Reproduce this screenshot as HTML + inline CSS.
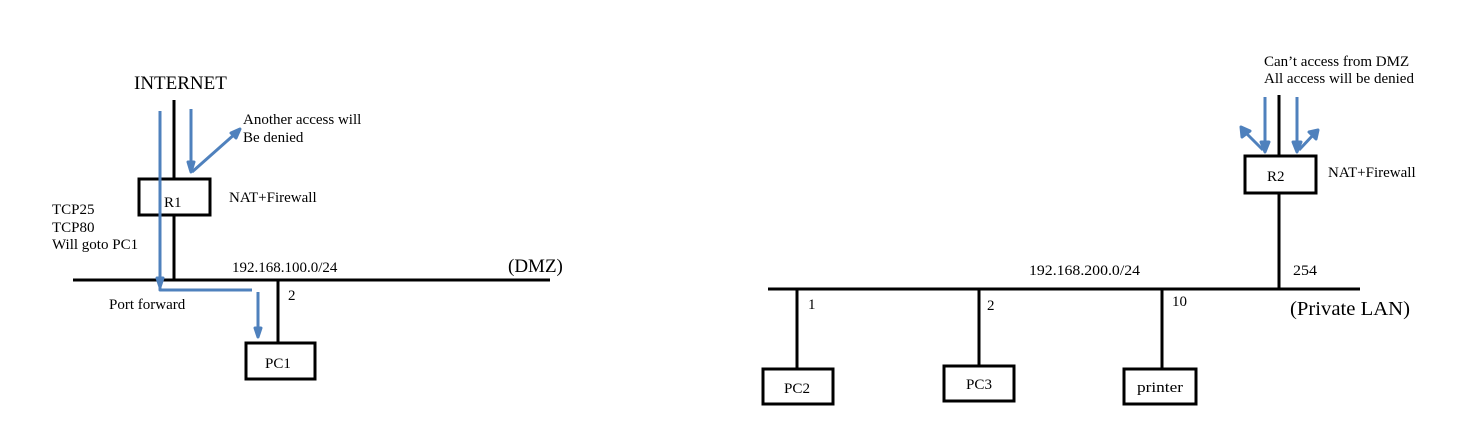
<!DOCTYPE html>
<html><head><meta charset="utf-8"><style>
html,body{margin:0;padding:0;background:#fff;}
svg{display:block;}
text{font-family:"Liberation Serif",serif;fill:#000;}
</style></head><body>
<svg width="1470" height="440" viewBox="0 0 1470 440" xmlns="http://www.w3.org/2000/svg">
<g stroke="#000" stroke-width="3" fill="none">
  <line x1="174" y1="100" x2="174" y2="179"/>
  <rect x="139" y="179" width="71" height="36" fill="#fff"/>
  <line x1="174" y1="215" x2="174" y2="280"/>
  <line x1="73" y1="280" x2="550" y2="280"/>
  <line x1="278" y1="280" x2="278" y2="343"/>
  <rect x="246" y="343" width="69" height="36"/>
  <line x1="1279" y1="95" x2="1279" y2="156"/>
  <rect x="1245" y="156" width="71" height="37"/>
  <line x1="1279" y1="193" x2="1279" y2="289"/>
  <line x1="768" y1="289" x2="1360" y2="289"/>
  <line x1="797" y1="289" x2="797" y2="369"/>
  <rect x="763" y="369" width="70" height="35"/>
  <line x1="979" y1="289" x2="979" y2="366"/>
  <rect x="944" y="366" width="70" height="35"/>
  <line x1="1162" y1="289" x2="1162" y2="369"/>
  <rect x="1124" y="369" width="72" height="35"/>
</g>
<g stroke="#4f81bd" stroke-width="3" fill="#4f81bd" stroke-linejoin="round">
  <polyline points="160,111 160,290 252,290" fill="none"/>
  <polygon points="157,278 160,287 163,278"/>
  <line x1="258" y1="292" x2="258" y2="330"/>
  <polygon points="255,328 258,337 261,328"/>
  <line x1="191" y1="109" x2="191" y2="170"/>
  <polygon points="188,162 191,172 194,162"/>
  <line x1="192" y1="172" x2="236" y2="133"/>
  <polygon points="231,133 240,129 236,138"/>
  <line x1="1265" y1="97" x2="1265" y2="148"/>
  <polygon points="1261,142 1265,152 1269,142"/>
  <line x1="1263" y1="150" x2="1245" y2="132"/>
  <polygon points="1242,137 1241,127 1250,131"/>
  <line x1="1297" y1="97" x2="1297" y2="148"/>
  <polygon points="1293,142 1297,152 1301,142"/>
  <line x1="1299" y1="150" x2="1314" y2="134"/>
  <polygon points="1309,132 1318,130 1316,139"/>
</g>
<text x="134" y="89" font-size="19">INTERNET</text>
<text x="243" y="124" font-size="15">Another access will</text>
<text x="243" y="142" font-size="15">Be denied</text>
<text x="164" y="207" font-size="15">R1</text>
<text x="229" y="202" font-size="15">NAT+Firewall</text>
<text x="52" y="214" font-size="15">TCP25</text>
<text x="52" y="232" font-size="15">TCP80</text>
<text x="52" y="249" font-size="15">Will goto PC1</text>
<text x="232" y="272" font-size="15">192.168.100.0/24</text>
<text x="508" y="272" font-size="19">(DMZ)</text>
<text x="109" y="309" font-size="15">Port forward</text>
<text x="288" y="300" font-size="15">2</text>
<text x="265" y="368" font-size="15">PC1</text>

<text x="1264" y="66" font-size="15">Can’t access from DMZ</text>
<text x="1264" y="83" font-size="15">All access will be denied</text>
<text x="1267" y="181" font-size="15">R2</text>
<text x="1328" y="177" font-size="15">NAT+Firewall</text>
<text x="1029" y="275" font-size="15" textLength="111" lengthAdjust="spacingAndGlyphs">192.168.200.0/24</text>
<text x="1293" y="275" font-size="15" textLength="24" lengthAdjust="spacingAndGlyphs">254</text>
<text x="808" y="309" font-size="15">1</text>
<text x="987" y="310" font-size="15">2</text>
<text x="1172" y="306" font-size="15">10</text>
<text x="1290" y="315" font-size="20" textLength="120" lengthAdjust="spacingAndGlyphs">(Private  LAN)</text>
<text x="784" y="393" font-size="15" textLength="26" lengthAdjust="spacingAndGlyphs">PC2</text>
<text x="966" y="389" font-size="15" textLength="26" lengthAdjust="spacingAndGlyphs">PC3</text>
<text x="1137" y="392" font-size="15" textLength="46" lengthAdjust="spacingAndGlyphs">printer</text>
</svg>
</body></html>
